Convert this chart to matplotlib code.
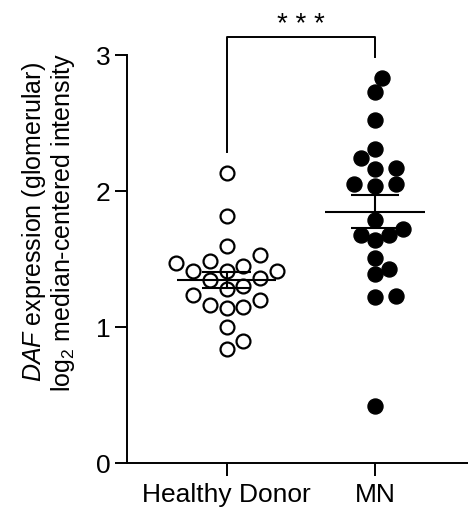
import numpy as np
import matplotlib.pyplot as plt

plt.rcParams['font.family'] = ['Liberation Sans', 'DejaVu Sans']
plt.rcParams['mathtext.fontset'] = 'custom'
plt.rcParams['mathtext.rm'] = 'Liberation Sans'
plt.rcParams['mathtext.it'] = 'Liberation Sans:italic'

# datos
groups = ['Healthy Donor', 'MN']
healthy = [2.13, 1.82, 1.60, 1.53, 1.49, 1.47, 1.45, 1.41, 1.41, 1.41, 1.35,
           1.36, 1.30, 1.28, 1.24, 1.20, 1.14, 1.16, 1.15, 1.00, 0.90, 0.84]
mn = [2.83, 2.73, 2.52, 2.31, 2.24, 2.17, 2.16, 2.05, 2.05, 2.04, 1.79,
      1.72, 1.68, 1.68, 1.64, 1.51, 1.43, 1.39, 1.23, 1.22, 0.42]
yticks = [0, 1, 2, 3]
signif = '* * *'

fig = plt.figure(figsize=(4.68, 5.15), dpi=100)
ax = fig.add_axes([0.272, 0.1004, 0.728, 0.7928])
ax.set_xlim(-0.67, 1.627)
ax.set_ylim(0, 3)

# escala en píxeles para colocar los puntos sin solaparse
fig.canvas.draw()
p0 = ax.transData.transform((0, 0))
p1 = ax.transData.transform((1, 1))
sx, sy = p1[0] - p0[0], p1[1] - p0[1]


def swarm(vals, dmin, step):
    vals = np.asarray(vals)
    offs = np.zeros(len(vals))
    placed = []
    cands = [0.0] + [s * j * step for j in range(1, 30) for s in (1, -1)]
    for i in np.argsort(vals):
        y = vals[i] * sy
        for c in cands:
            if all((c - px) ** 2 + (y - py) ** 2 >= dmin ** 2 for px, py in placed):
                break
        placed.append((c, y))
        offs[i] = c
    return offs / sx


for i, (vals, filled) in enumerate([(healthy, False), (mn, True)]):
    vals = np.asarray(vals)
    if filled:
        xo = swarm(vals, 15, 7)
        ax.plot(i + xo, vals, 'o', ms=10.8, color='black', ls='none', zorder=2)
    else:
        xo = swarm(vals, 16.5, 8.4)
        ax.plot(i + xo, vals, 'o', ms=10, mfc='none', mec='black', mew=1.6,
                ls='none', zorder=2)
    m = vals.mean()
    sem = vals.std(ddof=1) / np.sqrt(len(vals))
    ax.hlines(m, i - 0.334, i + 0.334, color='black', lw=1.5, zorder=3)
    ax.vlines(i, m - sem, m + sem, color='black', lw=1.5, zorder=3)
    ax.hlines([m - sem, m + sem], i - 0.165, i + 0.165, color='black', lw=1.5, zorder=3)

# corchete de significancia
ax.plot([0, 0, 1, 1], [2.29, 3.135, 3.135, 2.985], color='black', lw=1.4,
        clip_on=False)
ax.text(0.5, 3.17, signif, ha='center', va='baseline', fontsize=20)

ax.spines['top'].set_visible(False)
ax.spines['right'].set_visible(False)
ax.spines['left'].set_bounds(0, 3)
ax.spines['left'].set_linewidth(1.4)
ax.spines['bottom'].set_linewidth(1.4)
ax.set_xticks([0, 1])
ax.set_xticklabels(groups)
ax.set_yticks(yticks)
ax.tick_params(axis='both', direction='out', width=1.4, labelsize=19)
ax.tick_params(axis='y', length=9, pad=3)
ax.tick_params(axis='x', length=9.5, pad=5)
ax.set_ylabel('$\\mathit{DAF}$ expression (glomerular)\nlog$_2$ median-centered intensity',
              fontsize=18, linespacing=1.05)
ax.yaxis.set_label_coords(-0.148, 0.59)

fig.savefig('out.png', dpi=100)
